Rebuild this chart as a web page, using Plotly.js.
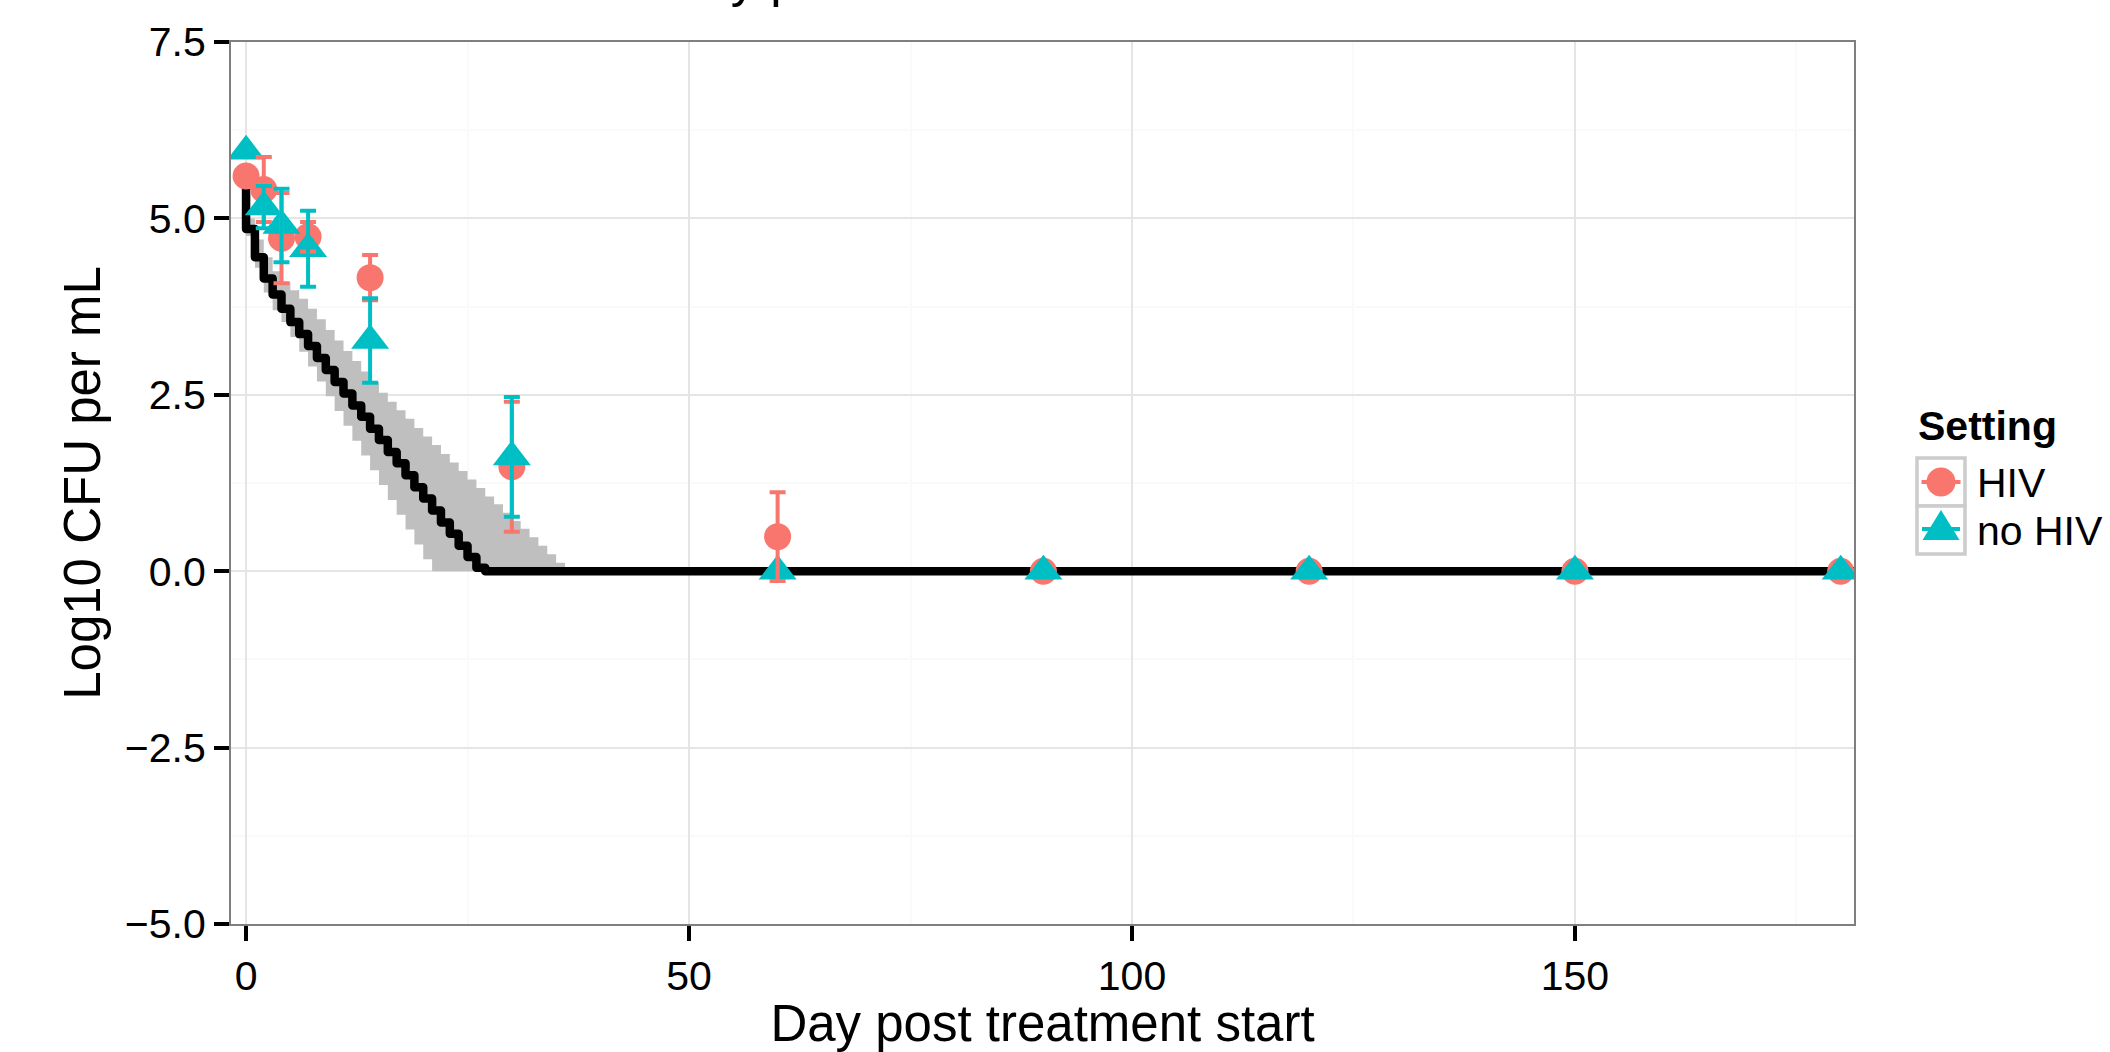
<!DOCTYPE html>
<html><head><meta charset="utf-8">
<script src="https://cdn.plot.ly/plotly-3.0.1.min.js"></script>
<style>html,body{margin:0;padding:0;background:#fff;}#chart{width:2110px;height:1052px;}
#chart path.js-line{stroke-linejoin:round !important;stroke-linecap:round !important;}</style>
</head><body><div id="chart"></div>
<script>
// ---- observed data (mean log10 CFU/mL and error half-width) ----
const obsDay    = [0, 2, 4, 7, 14, 30, 60, 90, 120, 150, 180];
const hivMean   = [5.60, 5.41, 4.72, 4.74, 4.16, 1.48, 0.49, 0, 0, 0, 0];
const hivErr    = [null, 0.46, 0.64, 0.21, 0.32, 0.92, 0.63, null, null, null, null];
const noHivMean = [5.95, 5.16, 4.90, 4.57, 3.27, 1.62, 0, 0, 0, 0, 0];
const noHivErr  = [null, 0.30, 0.52, 0.54, 0.60, 0.85, null, null, null, null, null];

// ---- model prediction (median and interval) ----
const modelDay = [0,1,2,3,4,5,6,7,8,9,10,11,12,13,14,15,16,17,18,19,20,21,22,23,24,25,26,27,28,29,30,31,32,33,34,35,36,37,182];
const modelMedian = [5.6,4.85,4.45,4.15,3.92,3.72,3.53,3.36,3.19,3.02,2.85,2.68,2.52,2.35,2.19,2.02,1.86,1.69,1.53,1.36,1.19,1.03,0.86,0.69,0.53,0.36,0.2,0.05,0,0,0,0,0,0,0,0,0,0,0];
const modelLower  = [5.5,4.75,4.3,3.95,3.7,3.53,3.32,3.11,2.9,2.69,2.48,2.27,2.06,1.85,1.64,1.43,1.22,1.01,0.8,0.59,0.38,0.17,0,0,0,0,0,0,0,0,0,0,0,0,0,0,0,0,0];
const modelUpper  = [5.75,5.0,4.7,4.45,4.25,4.1,3.98,3.86,3.72,3.57,3.42,3.27,3.12,2.98,2.83,2.68,2.53,2.4,2.28,2.16,2.03,1.91,1.79,1.66,1.54,1.42,1.3,1.18,1.06,0.95,0.83,0.71,0.6,0.48,0.36,0.24,0.12,0,0];

// ---- axis ticks and labels ----
const xTicks = [0, 50, 100, 150];
const xMinor = [25, 75, 125, 175];
const yTicks = [-5, -2.5, 0, 2.5, 5, 7.5];
const yMinor = [-3.75, -1.25, 1.25, 3.75, 6.25];
const groups = ['HIV', 'no HIV'];
const legendTitle = 'Setting';
const xTitle = 'Day post treatment start';
const yTitle = 'Log10 CFU per mL';
const plotTitle = 'Mean bacterial load by patient';

const RED = '#F8766D', TEAL = '#00BFC4';
const W = 2110, H = 1052, ML = 231, MR = 256, MT = 42, MB = 128;
const px = x => (x - ML) / (W - ML - MR);
const py = y => (H - MB - y) / (H - MT - MB);

function keep(days, vals, errs) {
  const idx = errs.map((e, i) => e == null ? -1 : i).filter(i => i >= 0);
  return {x: idx.map(i => days[i]), y: idx.map(i => vals[i]), e: idx.map(i => errs[i])};
}
const hivE = keep(obsDay, hivMean, hivErr);
const noE = keep(obsDay, noHivMean, noHivErr);

const traces = [
  {x: modelDay, y: modelLower, mode: 'lines', line: {width: 0, shape: 'vh'}, hoverinfo: 'skip'},
  {x: modelDay, y: modelUpper, mode: 'lines', line: {width: 0, shape: 'vh'}, fill: 'tonexty', fillcolor: '#BFBFBF', hoverinfo: 'skip'},
  {x: modelDay, y: modelMedian, mode: 'lines', line: {width: 8.5, color: '#000', shape: 'vh'}},
  {x: obsDay, y: hivMean, mode: 'markers', name: groups[0], marker: {symbol: 'circle', size: 27, color: RED}},
  {x: obsDay, y: noHivMean, mode: 'markers', name: groups[1], marker: {symbol: 'triangle-up', size: 33, color: TEAL}},
  {x: hivE.x, y: hivE.y, mode: 'markers', marker: {size: 1, opacity: 0},
   error_y: {type: 'data', array: hivE.e, visible: true, color: RED, thickness: 4, width: 8}},
  {x: noE.x, y: noE.y, mode: 'markers', marker: {size: 1, opacity: 0},
   error_y: {type: 'data', array: noE.e, visible: true, color: TEAL, thickness: 4, width: 8}}
];

const shapes = [
  {type: 'rect', xref: 'paper', yref: 'paper', x0: px(1917), x1: px(1965), y0: py(458), y1: py(506), line: {color: '#CCCCCC', width: 3.5}, fillcolor: '#fff'},
  {type: 'rect', xref: 'paper', yref: 'paper', x0: px(1917), x1: px(1965), y0: py(506), y1: py(554), line: {color: '#CCCCCC', width: 3.5}, fillcolor: '#fff'},
  {type: 'circle', xref: 'paper', yref: 'paper', xsizemode: 'pixel', ysizemode: 'pixel', xanchor: px(1941), yanchor: py(482), x0: -14.5, x1: 14.5, y0: -14.5, y1: 14.5, fillcolor: RED, line: {width: 0}},
  {type: 'line', xref: 'paper', yref: 'paper', xsizemode: 'pixel', ysizemode: 'pixel', xanchor: px(1941), yanchor: py(482), x0: -19.5, x1: 19.5, y0: 0, y1: 0, line: {color: RED, width: 4}},
  {type: 'path', xref: 'paper', yref: 'paper', xsizemode: 'pixel', ysizemode: 'pixel', xanchor: px(1941), yanchor: py(530), path: 'M-18.5,-10L18.5,-10L0,20Z', fillcolor: TEAL, line: {width: 0}},
  {type: 'line', xref: 'paper', yref: 'paper', xsizemode: 'pixel', ysizemode: 'pixel', xanchor: px(1941), yanchor: py(529), x0: -19, x1: 19, y0: 0, y1: 0, line: {color: TEAL, width: 4}}
];

const annotations = [
  {text: '<b>' + legendTitle + '</b>', xref: 'paper', yref: 'paper', x: px(1916), y: py(426), xanchor: 'left', yanchor: 'middle', showarrow: false, font: {size: 41, color: '#000'}},
  {text: groups[0], xref: 'paper', yref: 'paper', x: px(1975), y: py(483), xanchor: 'left', yanchor: 'middle', showarrow: false, font: {size: 41, color: '#000'}},
  {text: groups[1], xref: 'paper', yref: 'paper', x: px(1975), y: py(531), xanchor: 'left', yanchor: 'middle', showarrow: false, font: {size: 41, color: '#000'}}
];

const axisCommon = {
  ticks: 'outside', ticklen: 15, tickwidth: 4, tickcolor: '#000',
  tickfont: {size: 41, color: '#000'},
  showline: true, mirror: true, linecolor: '#7F7F7F', linewidth: 2,
  showgrid: true, gridcolor: '#E5E5E5', gridwidth: 2, zeroline: false, automargin: false
};

const layout = {
  width: W, height: H,
  margin: {l: ML, r: MR, t: MT, b: MB, pad: 0},
  paper_bgcolor: '#fff', plot_bgcolor: '#fff',
  font: {family: 'Liberation Sans, Arial, Helvetica, sans-serif', color: '#000'},
  showlegend: false, hovermode: false,
  title: {text: plotTitle, font: {size: 51, color: '#000'}, xref: 'container', x: 243 / W, xanchor: 'left',
          yref: 'container', y: 1, yanchor: 'bottom', pad: {b: 4, t: 0, l: 0, r: 0}},
  xaxis: Object.assign({}, axisCommon, {
    range: [-1.7, 181.5], tickmode: 'array', tickvals: xTicks, ticktext: xTicks.map(String),
    minor: {tickmode: 'array', tickvals: xMinor, showgrid: true, gridcolor: '#FAFAFA', gridwidth: 2, ticks: ''},
    title: {text: xTitle, font: {size: 51, color: '#000'}, standoff: 22}
  }),
  yaxis: Object.assign({}, axisCommon, {
    range: [-5, 7.5], tickmode: 'array', tickvals: yTicks, tickformat: '.1f',
    minor: {tickmode: 'array', tickvals: yMinor, showgrid: true, gridcolor: '#FAFAFA', gridwidth: 2, ticks: ''},
    title: {text: yTitle, font: {size: 51, color: '#000'}, standoff: 8}
  }),
  shapes: shapes,
  annotations: annotations
};

Plotly.newPlot('chart', traces, layout, {staticPlot: true, displayModeBar: false});
</script></body></html>
